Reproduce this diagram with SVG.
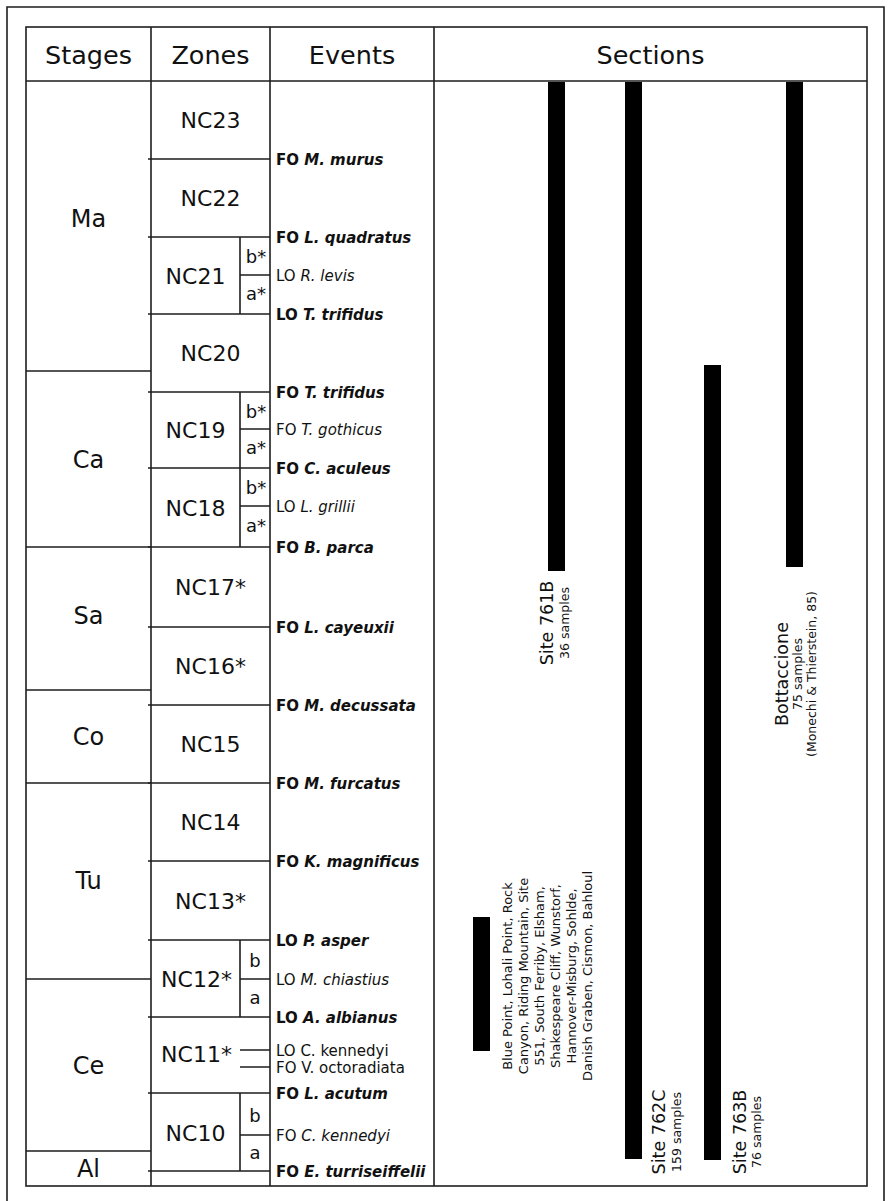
<svg xmlns="http://www.w3.org/2000/svg" width="891" height="1201" viewBox="0 0 891 1201">
  <style>
    .ln{stroke:#1e1e1e;stroke-width:1.6;fill:none}
    text{font-family:"DejaVu Sans",Verdana,sans-serif;fill:#111}
    .hd{font-size:25.5px;text-anchor:middle}
    .st{font-size:24px;text-anchor:middle}
    .zn{font-size:22px;text-anchor:middle}
    .sub{font-size:18px;text-anchor:middle}
    .ev{font-size:15px}
    .b{font-weight:bold}
    .i{font-style:italic}
    .bar{fill:#000}
    .sl{font-size:17.5px;text-anchor:middle}
    .ss{font-size:12.5px;text-anchor:middle}
    .ml{font-size:13px;text-anchor:middle}
  </style>

  <!-- frame and table grid -->
  <g id="frame">
    <path class="ln" d="M7,1201 V7 H884 V1201"/>
    <rect class="ln" x="26" y="27" width="841" height="1159"/>
    <path class="ln" d="M26,81 H867 M151,27 V1186 M270,27 V1186 M434,27 V1186"/>
  </g>

  <g id="header">
    <text class="hd" x="88.5" y="64">Stages</text>
    <text class="hd" x="210.5" y="64">Zones</text>
    <text class="hd" x="352" y="64">Events</text>
    <text class="hd" x="650.5" y="64">Sections</text>
  </g>

  <!-- stages column -->
  <g id="stages">
    <path class="ln" d="M26,371 H151 M26,547 H151 M26,690 H151 M26,783 H151 M26,979 H151 M26,1151 H151"/>
    <text class="st" x="88.5" y="227">Ma</text>
    <text class="st" x="88.5" y="468">Ca</text>
    <text class="st" x="88.5" y="624">Sa</text>
    <text class="st" x="88.5" y="745">Co</text>
    <text class="st" x="88.5" y="889">Tu</text>
    <text class="st" x="88.5" y="1074">Ce</text>
    <text class="st" x="88.5" y="1177">Al</text>
  </g>

  <!-- zones column -->
  <g id="zones">
    <path class="ln" d="M148,159 H270 M148,237 H270 M148,314 H270 M148,392 H270 M148,468 H270 M148,547 H270 M148,627 H270 M148,705 H270 M148,783 H270 M148,861 H270 M148,940 H270 M148,1017 H270 M148,1093 H270 M148,1171 H270"/>
    <path class="ln" d="M240,237 V314 M240,392 V547 M240,940 V1017 M240,1093 V1171"/>
    <path class="ln" d="M240,275 H270 M240,429 H270 M240,506 H270 M240,979 H270 M240,1135 H270 M240,1050 H270 M240,1067 H270"/>
    <text class="zn" x="210.5" y="128">NC23</text>
    <text class="zn" x="210.5" y="206">NC22</text>
    <text class="zn" x="195.5" y="283.5">NC21</text>
    <text class="zn" x="210.5" y="361">NC20</text>
    <text class="zn" x="195.5" y="438">NC19</text>
    <text class="zn" x="195.5" y="515.5">NC18</text>
    <text class="zn" x="210.5" y="595">NC17*</text>
    <text class="zn" x="210.5" y="674">NC16*</text>
    <text class="zn" x="210.5" y="752">NC15</text>
    <text class="zn" x="210.5" y="830">NC14</text>
    <text class="zn" x="210.5" y="908.5">NC13*</text>
    <text class="zn" x="196.5" y="986.5">NC12*</text>
    <text class="zn" x="196.5" y="1062">NC11*</text>
    <text class="zn" x="195.5" y="1141">NC10</text>
    <text class="sub" x="256" y="263">b*</text>
    <text class="sub" x="256" y="300">a*</text>
    <text class="sub" x="256" y="417.5">b*</text>
    <text class="sub" x="256" y="454">a*</text>
    <text class="sub" x="256" y="494">b*</text>
    <text class="sub" x="256" y="532">a*</text>
    <text class="sub" x="255" y="966.5">b</text>
    <text class="sub" x="255" y="1003.5">a</text>
    <text class="sub" x="255" y="1122">b</text>
    <text class="sub" x="255" y="1158.5">a</text>
  </g>

  <!-- events column -->
  <g id="events">
    <text class="ev b" x="276" y="165">FO <tspan class="i">M. murus</tspan></text>
    <text class="ev b" x="276" y="243">FO <tspan class="i">L. quadratus</tspan></text>
    <text class="ev" x="276" y="281">LO <tspan class="i">R. levis</tspan></text>
    <text class="ev b" x="276" y="320">LO <tspan class="i">T. trifidus</tspan></text>
    <text class="ev b" x="276" y="398">FO <tspan class="i">T. trifidus</tspan></text>
    <text class="ev" x="276" y="435">FO <tspan class="i">T. gothicus</tspan></text>
    <text class="ev b" x="276" y="474">FO <tspan class="i">C. aculeus</tspan></text>
    <text class="ev" x="276" y="512">LO <tspan class="i">L. grillii</tspan></text>
    <text class="ev b" x="276" y="553">FO <tspan class="i">B. parca</tspan></text>
    <text class="ev b" x="276" y="633">FO <tspan class="i">L. cayeuxii</tspan></text>
    <text class="ev b" x="276" y="711">FO <tspan class="i">M. decussata</tspan></text>
    <text class="ev b" x="276" y="789">FO <tspan class="i">M. furcatus</tspan></text>
    <text class="ev b" x="276" y="867">FO <tspan class="i">K. magnificus</tspan></text>
    <text class="ev b" x="276" y="946">LO <tspan class="i">P. asper</tspan></text>
    <text class="ev" x="276" y="985">LO <tspan class="i">M. chiastius</tspan></text>
    <text class="ev b" x="276" y="1023">LO <tspan class="i">A. albianus</tspan></text>
    <text class="ev" x="276" y="1056">LO C. kennedyi</text>
    <text class="ev" x="276" y="1073">FO V. octoradiata</text>
    <text class="ev b" x="276" y="1099">FO <tspan class="i">L. acutum</tspan></text>
    <text class="ev" x="276" y="1141">FO <tspan class="i">C. kennedyi</tspan></text>
    <text class="ev b" x="276" y="1177">FO <tspan class="i">E. turriseiffelii</tspan></text>
  </g>

  <!-- sections: sampled ranges -->
  <g id="site761B">
    <rect class="bar" x="548" y="82" width="17" height="489"/>
    <text class="sl" transform="translate(553,623) rotate(-90)">Site 761B</text>
    <text class="ss" transform="translate(569,623) rotate(-90)">36 samples</text>
  </g>
  <g id="site762C">
    <rect class="bar" x="625" y="82" width="17" height="1077"/>
    <text class="sl" transform="translate(665,1132) rotate(-90)">Site 762C</text>
    <text class="ss" transform="translate(681,1132) rotate(-90)">159 samples</text>
  </g>
  <g id="site763B">
    <rect class="bar" x="704" y="365" width="17" height="795"/>
    <text class="sl" transform="translate(746,1132) rotate(-90)">Site 763B</text>
    <text class="ss" transform="translate(761,1132) rotate(-90)">76 samples</text>
  </g>
  <g id="bottaccione">
    <rect class="bar" x="786" y="82" width="17" height="485"/>
    <text class="sl" transform="translate(788,674) rotate(-90)">Bottaccione</text>
    <text class="ss" transform="translate(802,674) rotate(-90)">75 samples</text>
    <text class="ss" transform="translate(816,674) rotate(-90)">(Monechi &amp; Thierstein, 85)</text>
  </g>
  <g id="other-sites">
    <rect class="bar" x="473" y="917" width="17" height="134"/>
    <text class="ml" transform="translate(512,976) rotate(-90)">Blue Point, Lohali Point, Rock</text>
    <text class="ml" transform="translate(528,976) rotate(-90)">Canyon, Riding Mountain, Site</text>
    <text class="ml" transform="translate(544,976) rotate(-90)">551, South Ferriby, Elsham,</text>
    <text class="ml" transform="translate(560,976) rotate(-90)">Shakespeare Cliff, Wunstorf,</text>
    <text class="ml" transform="translate(576,976) rotate(-90)">Hannover-Misburg, Sohlde,</text>
    <text class="ml" transform="translate(592,976) rotate(-90)">Danish Graben, Cismon, Bahloul</text>
  </g>
</svg>
